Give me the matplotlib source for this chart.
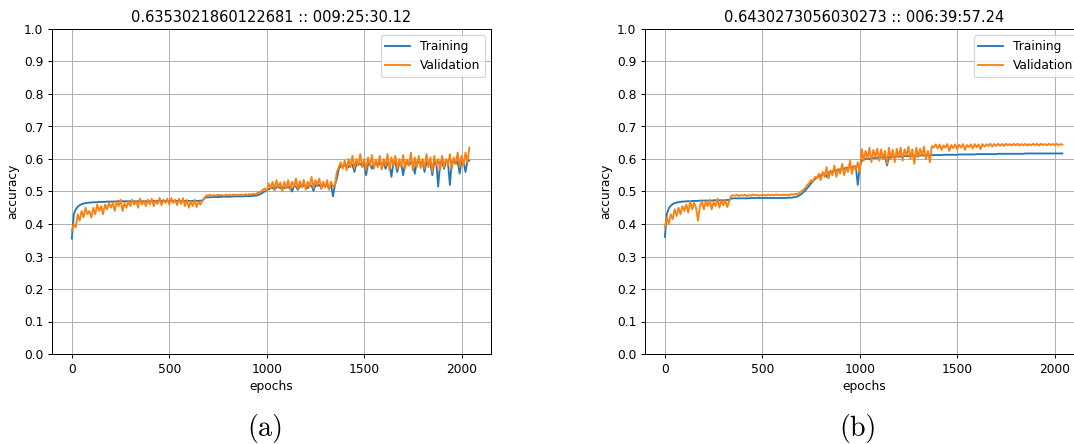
import numpy as np
import matplotlib
matplotlib.use("Agg")
import matplotlib.pyplot as plt

# Accuracy, one value every 10 epochs (0 .. 2040).
epochs = list(range(0, 2050, 10))

train_a = [
    0.355, 0.43, 0.445, 0.453, 0.458, 0.461, 0.463, 0.464, 0.465, 0.466,
    0.466, 0.467, 0.467, 0.467, 0.468, 0.468, 0.468, 0.468, 0.469, 0.469,
    0.469, 0.469, 0.469, 0.47, 0.47, 0.47, 0.47, 0.47, 0.47, 0.47,
    0.47, 0.47, 0.47, 0.47, 0.47, 0.47, 0.47, 0.47, 0.47, 0.47,
    0.47, 0.47, 0.471, 0.471, 0.471, 0.471, 0.471, 0.471, 0.471, 0.471,
    0.471, 0.471, 0.471, 0.471, 0.471, 0.471, 0.471, 0.471, 0.471, 0.471,
    0.471, 0.471, 0.471, 0.471, 0.471, 0.471, 0.472, 0.472, 0.48, 0.482,
    0.482, 0.482, 0.483, 0.483, 0.483, 0.483, 0.483, 0.484, 0.484, 0.484,
    0.484, 0.484, 0.484, 0.485, 0.485, 0.485, 0.485, 0.485, 0.485, 0.486,
    0.486, 0.486, 0.486, 0.487, 0.487, 0.488, 0.49, 0.493, 0.497, 0.50,
    0.503, 0.507, 0.51, 0.512, 0.505, 0.513, 0.515, 0.51, 0.516, 0.51,
    0.515, 0.512, 0.517, 0.50, 0.518, 0.515, 0.505, 0.518, 0.514, 0.519,
    0.516, 0.51, 0.52, 0.518, 0.502, 0.52, 0.517, 0.521, 0.51, 0.52,
    0.518, 0.52, 0.51, 0.522, 0.485, 0.52, 0.54, 0.57, 0.578, 0.58,
    0.58, 0.582, 0.575, 0.583, 0.582, 0.56, 0.584, 0.583, 0.585, 0.578,
    0.584, 0.55, 0.585, 0.584, 0.57, 0.586, 0.585, 0.58, 0.586, 0.587,
    0.586, 0.57, 0.587, 0.586, 0.545, 0.588, 0.587, 0.56, 0.588, 0.589,
    0.55, 0.588, 0.589, 0.58, 0.589, 0.59, 0.555, 0.59, 0.589, 0.59,
    0.591, 0.56, 0.59, 0.591, 0.585, 0.55, 0.592, 0.591, 0.515, 0.592,
    0.592, 0.57, 0.593, 0.592, 0.52, 0.593, 0.592, 0.585, 0.593, 0.555,
    0.594, 0.593, 0.56, 0.594, 0.595,
]

valid_a = [
    0.38, 0.40, 0.39, 0.43, 0.41, 0.44, 0.42, 0.45, 0.43, 0.44,
    0.42, 0.45, 0.43, 0.46, 0.44, 0.455, 0.43, 0.46, 0.445, 0.465,
    0.45, 0.465, 0.44, 0.47, 0.455, 0.475, 0.44, 0.465, 0.45, 0.47,
    0.455, 0.475, 0.46, 0.47, 0.45, 0.478, 0.46, 0.472, 0.455, 0.475,
    0.46, 0.478, 0.455, 0.472, 0.462, 0.48, 0.458, 0.475, 0.465, 0.478,
    0.46, 0.48, 0.465, 0.475, 0.458, 0.478, 0.462, 0.48, 0.455, 0.474,
    0.45, 0.47, 0.455, 0.475, 0.452, 0.468, 0.46, 0.472, 0.478, 0.488,
    0.487, 0.49, 0.486, 0.489, 0.487, 0.49, 0.488, 0.489, 0.487, 0.49,
    0.488, 0.49, 0.487, 0.491, 0.488, 0.49, 0.489, 0.491, 0.488, 0.492,
    0.489, 0.492, 0.49, 0.493, 0.491, 0.495, 0.496, 0.50, 0.505, 0.51,
    0.50, 0.525, 0.51, 0.53, 0.505, 0.535, 0.512, 0.528, 0.50, 0.53,
    0.51, 0.535, 0.505, 0.53, 0.515, 0.54, 0.508, 0.532, 0.512, 0.536,
    0.505, 0.53, 0.515, 0.545, 0.51, 0.535, 0.52, 0.54, 0.508, 0.53,
    0.512, 0.535, 0.505, 0.53, 0.515, 0.52, 0.56, 0.575, 0.59, 0.57,
    0.595, 0.565, 0.60, 0.575, 0.61, 0.57, 0.60, 0.58, 0.615, 0.575,
    0.60, 0.565, 0.605, 0.58, 0.612, 0.57, 0.598, 0.575, 0.61, 0.568,
    0.60, 0.578, 0.615, 0.565, 0.605, 0.58, 0.61, 0.57, 0.60, 0.575,
    0.612, 0.57, 0.598, 0.58, 0.62, 0.565, 0.605, 0.575, 0.61, 0.572,
    0.60, 0.57, 0.615, 0.575, 0.605, 0.56, 0.61, 0.58, 0.60, 0.565,
    0.61, 0.575, 0.60, 0.58, 0.615, 0.57, 0.605, 0.585, 0.62, 0.575,
    0.61, 0.58, 0.62, 0.59, 0.635,
]

train_b = [
    0.36, 0.43, 0.448, 0.456, 0.461, 0.464, 0.466, 0.467, 0.468, 0.469,
    0.469, 0.47, 0.47, 0.47, 0.471, 0.471, 0.471, 0.471, 0.472, 0.472,
    0.472, 0.472, 0.472, 0.472, 0.472, 0.473, 0.473, 0.473, 0.473, 0.473,
    0.473, 0.473, 0.474, 0.474, 0.478, 0.479, 0.479, 0.479, 0.479, 0.479,
    0.479, 0.479, 0.479, 0.479, 0.48, 0.48, 0.48, 0.48, 0.48, 0.48,
    0.48, 0.48, 0.48, 0.48, 0.48, 0.48, 0.48, 0.48, 0.48, 0.48,
    0.48, 0.48, 0.48, 0.481, 0.481, 0.481, 0.482, 0.483, 0.485, 0.488,
    0.492, 0.497, 0.503, 0.51, 0.517, 0.525, 0.532, 0.538, 0.543, 0.547,
    0.55, 0.553, 0.555, 0.545, 0.558, 0.56, 0.562, 0.563, 0.565, 0.567,
    0.568, 0.57, 0.571, 0.572, 0.573, 0.574, 0.575, 0.576, 0.577, 0.52,
    0.575, 0.595, 0.598, 0.60, 0.601, 0.60, 0.602, 0.603, 0.603, 0.604,
    0.604, 0.605, 0.605, 0.606, 0.58, 0.606, 0.607, 0.607, 0.607, 0.608,
    0.608, 0.608, 0.609, 0.609, 0.609, 0.609, 0.61, 0.61, 0.61, 0.61,
    0.61, 0.611, 0.611, 0.611, 0.611, 0.612, 0.612, 0.612, 0.612, 0.612,
    0.612, 0.612, 0.612, 0.613, 0.613, 0.613, 0.613, 0.613, 0.613, 0.613,
    0.613, 0.614, 0.614, 0.614, 0.614, 0.614, 0.614, 0.614, 0.614, 0.614,
    0.615, 0.615, 0.615, 0.615, 0.615, 0.615, 0.615, 0.615, 0.615, 0.615,
    0.615, 0.616, 0.616, 0.616, 0.616, 0.616, 0.616, 0.616, 0.616, 0.616,
    0.616, 0.616, 0.616, 0.616, 0.616, 0.617, 0.617, 0.617, 0.617, 0.617,
    0.617, 0.617, 0.617, 0.617, 0.617, 0.617, 0.617, 0.617, 0.617, 0.617,
    0.617, 0.617, 0.617, 0.617, 0.617,
]

valid_b = [
    0.39, 0.42, 0.40, 0.43, 0.415, 0.445, 0.425, 0.45, 0.43, 0.455,
    0.44, 0.46, 0.435, 0.47, 0.445, 0.465, 0.45, 0.41, 0.455, 0.47,
    0.445, 0.47, 0.455, 0.475, 0.445, 0.468, 0.455, 0.478, 0.45, 0.472,
    0.458, 0.475, 0.452, 0.47, 0.486, 0.489, 0.487, 0.49, 0.486, 0.489,
    0.487, 0.49, 0.486, 0.489, 0.487, 0.491, 0.488, 0.49, 0.487, 0.489,
    0.488, 0.49, 0.487, 0.491, 0.488, 0.49, 0.488, 0.491, 0.489, 0.49,
    0.488, 0.491, 0.489, 0.49, 0.489, 0.492, 0.49, 0.493, 0.492, 0.496,
    0.50, 0.505, 0.51, 0.52, 0.525, 0.535, 0.53, 0.545, 0.54, 0.555,
    0.535, 0.56, 0.545, 0.575, 0.54, 0.565, 0.55, 0.58, 0.545, 0.57,
    0.555, 0.585, 0.55, 0.575, 0.56, 0.595, 0.555, 0.58, 0.565, 0.59,
    0.56, 0.63, 0.595, 0.625, 0.60, 0.635, 0.59, 0.628, 0.605, 0.632,
    0.595, 0.63, 0.60, 0.625, 0.585, 0.635, 0.60, 0.628, 0.59, 0.632,
    0.605, 0.635, 0.595, 0.63, 0.61, 0.638, 0.60, 0.63, 0.585, 0.635,
    0.605, 0.632, 0.61, 0.638, 0.60, 0.625, 0.59, 0.64, 0.635, 0.645,
    0.632, 0.645, 0.628, 0.642, 0.635, 0.646, 0.625, 0.643, 0.633, 0.645,
    0.63, 0.644, 0.635, 0.646, 0.628, 0.643, 0.636, 0.645, 0.632, 0.646,
    0.636, 0.645, 0.63, 0.646, 0.638, 0.645, 0.64, 0.647, 0.638, 0.646,
    0.64, 0.647, 0.641, 0.646, 0.64, 0.647, 0.642, 0.646, 0.641, 0.647,
    0.642, 0.647, 0.641, 0.646, 0.642, 0.647, 0.641, 0.646, 0.642, 0.647,
    0.642, 0.647, 0.641, 0.647, 0.643, 0.646, 0.642, 0.647, 0.643, 0.646,
    0.643, 0.647, 0.642, 0.646, 0.644,
]

titles = ["0.6353021860122681 :: 009:25:30.12",
          "0.6430273056030273 :: 006:39:57.24"]
captions = ["(a)", "(b)"]

DPI = 88
W, H = 1074, 444

figure = plt.figure(figsize=(W / DPI, H / DPI), dpi=DPI)

# axes boxes in pixels: left, bottom, width, height (right panel runs off the page)
boxes = [(52, 90, 439, 325), (645, 90, 439, 325)]
caption_x = [265, 858]

for box, title, train, valid, cap, cx in zip(boxes, titles, [train_a, train_b],
                                              [valid_a, valid_b], captions, caption_x):
    l, b, w, h = box
    axes = figure.add_axes([l / W, b / H, w / W, h / H])
    axes.plot(epochs, train, label="Training")
    axes.plot(epochs, valid, label="Validation")
    axes.set_ylim(0, 1)
    axes.set_yticks(np.arange(0, 1.01, 0.1))
    axes.set_xticks([0, 500, 1000, 1500, 2000])
    axes.set_xlim(-102, 2151)
    axes.grid(True)
    axes.set_title(title)
    axes.set_xlabel("epochs")
    axes.set_ylabel("accuracy")
    axes.legend(loc="upper right")
    figure.text(cx / W, 1 - 428 / H, cap, ha="center", va="center",
                family="cmr10", fontsize=23)

figure.savefig("out.png", dpi=DPI)
